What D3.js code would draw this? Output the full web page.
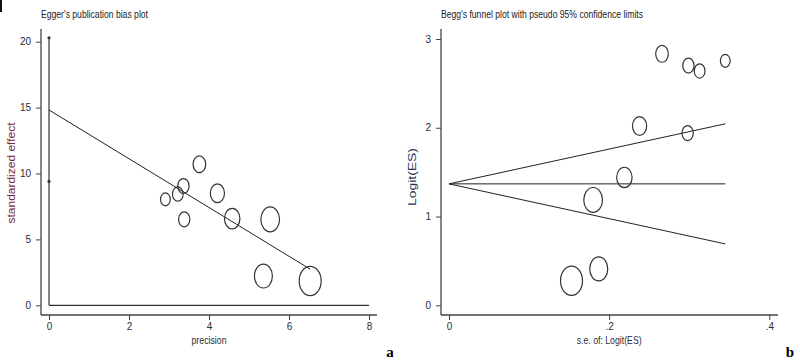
<!DOCTYPE html>
<html lang="en">
<head>
  <meta charset="UTF-8" />
  <title>Egger and Begg plots</title>
  <script src="https://cdn.jsdelivr.net/npm/d3@7"></script>
  <style>
    body { margin: 0; background: #fff; }
    text { font-family: "Liberation Sans Narrow", "Arial Narrow", "Liberation Sans", Arial, sans-serif; }
    .tick text { fill: #2b2b35; font-size: 10px; }
    .tick line { stroke: #444; }
  </style>
</head>
<body>
<div id="chart"></div>
<script>
// studies, same order in both panels
var eggerPrecision = [6.53, 5.36, 5.53, 4.58, 4.21, 3.38, 3.76, 3.36, 3.22, 2.91];
var eggerStdEffect = [1.84, 2.22, 6.52, 6.57, 8.50, 6.52, 10.70, 9.05, 8.44, 8.04];
var beggSE = [0.153, 0.187, 0.180, 0.219, 0.238, 0.298, 0.266, 0.299, 0.313, 0.345];
var beggLogit = [0.277, 0.41, 1.187, 1.44, 2.02, 1.94, 2.833, 2.70, 2.64, 2.754];
var studyWeight = [42.7, 28.6, 30.9, 20.9, 17.7, 11.3, 14.1, 11.2, 10.2, 8.4];

var eggerIntercept = 14.82, eggerSlope = -1.85;
var eggerCI = [9.4, 20.3];
var pooledLogit = 1.368;

var eggerXTicks = [0, 2, 4, 6, 8];
var eggerYTicks = [0, 5, 10, 15, 20];
var beggXTicks = [0, 0.2, 0.4];
var beggYTicks = [0, 1, 2, 3];

var width = 800, height = 361;
var svg = d3.select("#chart").append("svg")
  .attr("width", width)
  .attr("height", height);

svg.append("rect").attr("width", width).attr("height", height).attr("fill", "#fff");
svg.append("line").attr("x1", 1).attr("x2", 1).attr("y1", 0).attr("y2", 12)
  .attr("stroke", "#111").attr("stroke-width", 2);

// marker radius from weight (area ~ weight), drawn slightly taller than wide like the source
var rScale = d3.scaleSqrt().domain([0, d3.max(studyWeight)]).range([0, 11]);
var stretch = 1.33;

function drawPanel(o) {
  var g = svg.append("g");
  var x = d3.scaleLinear().domain(o.xDomain).range(o.xRange);
  var y = d3.scaleLinear().domain(o.yDomain).range(o.yRange);

  // axes (offset from the plot region, stata style)
  var yAxis = d3.axisLeft(y).tickValues(o.yTicks).tickSize(5).tickPadding(5).tickFormat(o.yFormat);
  var yg = g.append("g").attr("transform", "translate(" + o.axisX + ",0)").call(yAxis);
  yg.select(".domain").remove();
  var xAxis = d3.axisBottom(x).tickValues(o.xTicks).tickSize(5).tickPadding(3).tickFormat(o.xFormat);
  var xg = g.append("g").attr("transform", "translate(0," + o.axisY + ")").call(xAxis);
  xg.select(".domain").remove();

  g.append("line").attr("x1", o.axisX).attr("x2", o.axisX).attr("y1", o.axisTop).attr("y2", o.axisY)
    .attr("stroke", "#444").attr("stroke-width", 1.3);
  g.append("line").attr("x1", o.axisX).attr("x2", o.axisRight).attr("y1", o.axisY).attr("y2", o.axisY)
    .attr("stroke", "#444").attr("stroke-width", 1.3);

  g.append("text").attr("x", o.axisX).attr("y", 18)
    .attr("font-size", "10px").attr("fill", "#222")
    .attr("textLength", o.titleLen).attr("lengthAdjust", "spacingAndGlyphs")
    .text(o.title);

  g.append("text").attr("x", (o.xRange[0] + o.xRange[1]) / 2).attr("y", 344)
    .attr("text-anchor", "middle").attr("font-size", "11px").attr("fill", "#2b2b35")
    .attr("textLength", o.xLabelLen).attr("lengthAdjust", "spacingAndGlyphs")
    .text(o.xLabel);

  g.append("text")
    .attr("transform", "translate(" + o.yLabelX + "," + o.yLabelY + ") rotate(-90)")
    .attr("text-anchor", "middle").attr("font-size", "10px").attr("fill", o.yLabelColor)
    .style("font-family", "'Liberation Sans', Arial, sans-serif")
    .attr("textLength", o.yLabelLen).attr("lengthAdjust", "spacingAndGlyphs")
    .text(o.yLabel);

  g.append("text").attr("x", o.letterX).attr("y", 357)
    .attr("text-anchor", "middle").attr("font-size", "15px").attr("font-weight", "bold")
    .style("font-family", "'Liberation Serif', 'DejaVu Serif', serif")
    .text(o.letter);

  return { g: g, x: x, y: y };
}

/* ------------------ a: Egger ----------------- */
var a = drawPanel({
  xDomain: [0, 8], xRange: [49, 369],
  yDomain: [0, 20], yRange: [305.3, 41.7],
  xTicks: eggerXTicks, yTicks: eggerYTicks,
  xFormat: d3.format("d"), yFormat: d3.format("d"),
  axisX: 41, axisY: 315, axisTop: 29, axisRight: 377,
  title: "Egger's publication bias plot", titleLen: 107,
  xLabel: "precision", xLabelLen: 35,
  yLabel: "standardized effect", yLabelLen: 101, yLabelX: 15, yLabelY: 173, yLabelColor: "#74283e",
  letter: "a", letterX: 390
});

// reference line y = 0 and the intercept CI at x = 0
a.g.append("line").attr("x1", a.x(0)).attr("x2", a.x(8)).attr("y1", a.y(0)).attr("y2", a.y(0))
  .attr("stroke", "#333").attr("stroke-width", 1.2);
a.g.append("line").attr("x1", a.x(0)).attr("x2", a.x(0)).attr("y1", a.y(0)).attr("y2", a.y(eggerCI[1]))
  .attr("stroke", "#333").attr("stroke-width", 1.2);
a.g.selectAll(".ci").data(eggerCI).enter().append("circle")
  .attr("cx", a.x(0)).attr("cy", function(d) { return a.y(d); }).attr("r", 1.6)
  .attr("fill", "#333");

var xMax = d3.max(eggerPrecision);
a.g.append("line")
  .attr("x1", a.x(0)).attr("y1", a.y(eggerIntercept))
  .attr("x2", a.x(xMax)).attr("y2", a.y(eggerIntercept + eggerSlope * xMax))
  .attr("stroke", "#222").attr("stroke-width", 1);

a.g.selectAll(".pt").data(eggerPrecision).enter().append("ellipse")
  .attr("cx", function(d) { return a.x(d); })
  .attr("cy", function(d, i) { return a.y(eggerStdEffect[i]); })
  .attr("rx", function(d, i) { return rScale(studyWeight[i]); })
  .attr("ry", function(d, i) { return rScale(studyWeight[i]) * stretch; })
  .attr("fill", "none").attr("stroke", "#333").attr("stroke-width", 1.2);

/* ------------------ b: Begg ----------------- */
var b = drawPanel({
  xDomain: [0, 0.4], xRange: [449, 769.3],
  yDomain: [0, 3], yRange: [305.3, 39],
  xTicks: beggXTicks, yTicks: beggYTicks,
  xFormat: function(d) { return d === 0 ? "0" : d3.format(".1f")(d).replace(/^0/, ""); },
  yFormat: d3.format("d"),
  axisX: 441, axisY: 315, axisTop: 29, axisRight: 778,
  title: "Begg's funnel plot with pseudo 95% confidence limits", titleLen: 202,
  xLabel: "s.e. of: Logit(ES)", xLabelLen: 65,
  yLabel: "Logit(ES)", yLabelLen: 58, yLabelX: 416, yLabelY: 177, yLabelColor: "#2a3560",
  letter: "b", letterX: 790
});

var seMax = d3.max(beggSE);
[0, 1.96, -1.96].forEach(function(z) {
  b.g.append("line")
    .attr("x1", b.x(0)).attr("y1", b.y(pooledLogit))
    .attr("x2", b.x(seMax)).attr("y2", b.y(pooledLogit + z * seMax))
    .attr("stroke", "#222").attr("stroke-width", 1);
});

b.g.selectAll(".pt").data(beggSE).enter().append("ellipse")
  .attr("cx", function(d) { return b.x(d); })
  .attr("cy", function(d, i) { return b.y(beggLogit[i]); })
  .attr("rx", function(d, i) { return rScale(studyWeight[i]); })
  .attr("ry", function(d, i) { return rScale(studyWeight[i]) * stretch; })
  .attr("fill", "none").attr("stroke", "#333").attr("stroke-width", 1.2);
</script>
</body>
</html>
